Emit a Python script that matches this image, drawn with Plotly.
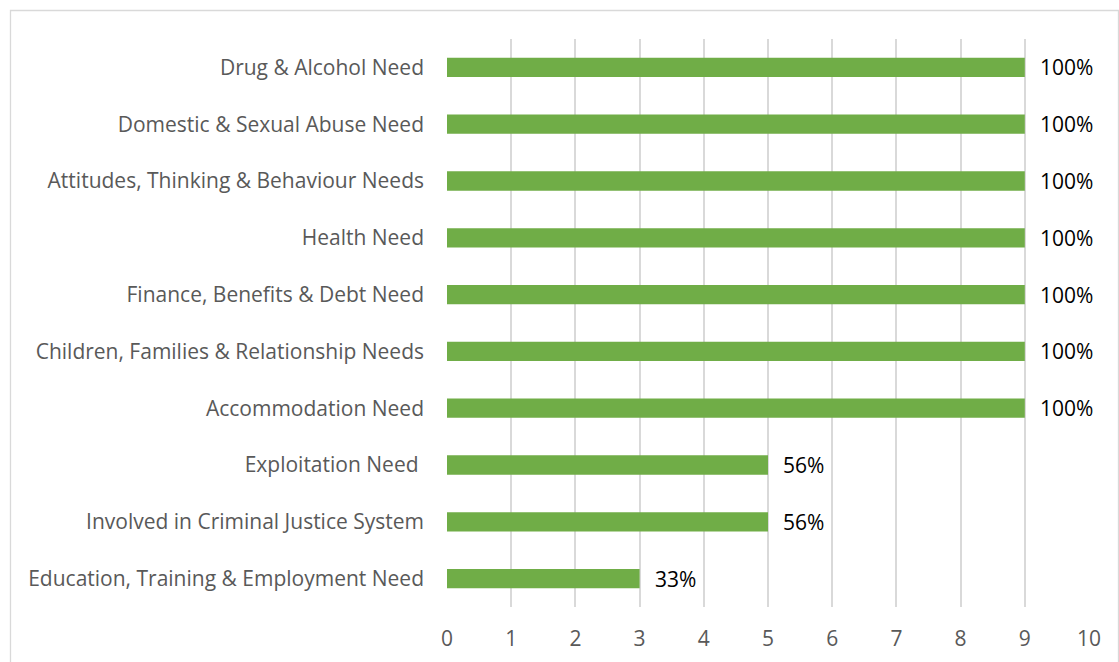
import plotly.graph_objects as go

# Needs identified, listed bottom-to-top as they appear on the chart
categories = [
    "Education, Training & Employment Need",
    "Involved in Criminal Justice System",
    "Exploitation Need ",
    "Accommodation Need",
    "Children, Families & Relationship Needs",
    "Finance, Benefits & Debt Need",
    "Health Need",
    "Attitudes, Thinking & Behaviour Needs",
    "Domestic & Sexual Abuse Need",
    "Drug & Alcohol Need",
]
counts = [3, 5, 5, 9, 9, 9, 9, 9, 9, 9]
pct_labels = ["33%", "56%", "56%", "100%", "100%", "100%", "100%", "100%", "100%", "100%"]
x_ticks = list(range(0, 11))

W, H = 1119, 662
ML, MR, MT, MB = 447, 30, 39, 55
FONT = "Open Sans"

fig = go.Figure(
    go.Bar(
        x=counts,
        y=categories,
        orientation="h",
        marker=dict(color="#70AD47", line=dict(width=0)),
        width=0.34,
        hoverinfo="skip",
    )
)

for c, v, p in zip(categories, counts, pct_labels):
    fig.add_annotation(
        x=v, y=c, text=p, showarrow=False, xanchor="left", xshift=13,
        font=dict(family=FONT, size=21, color="#000000"),
    )

# Outer chart-area frame
pw, ph = W - ML - MR, H - MT - MB
fig.add_shape(
    type="rect", xref="paper", yref="paper", layer="below",
    x0=(10.5 - ML) / pw, x1=(1118.5 - ML) / pw,
    y0=-(H + 20 - MT - ph) / ph, y1=1 + (MT - 10.5) / ph,
    line=dict(color="#D9D9D9", width=1.3), fillcolor="rgba(0,0,0,0)",
)

fig.update_layout(
    width=W, height=H,
    margin=dict(l=ML, r=MR, t=MT, b=MB),
    paper_bgcolor="white", plot_bgcolor="white",
    showlegend=False,
    font=dict(family=FONT, size=21, color="#595959"),
    xaxis=dict(
        range=[0, 10], tickvals=x_ticks, showgrid=True, gridcolor="#D9D9D9",
        gridwidth=1.5, zeroline=False, showline=False, ticks="",
        ticklabelstandoff=17, automargin=False,
        tickfont=dict(size=21, color="#595959"),
    ),
    yaxis=dict(
        categoryorder="array", categoryarray=categories,
        showgrid=False, zeroline=False, showline=False, ticks="",
        ticklabelstandoff=22, automargin=False,
        tickfont=dict(size=21, color="#595959"),
    ),
)

fig.write_html("out.html")
